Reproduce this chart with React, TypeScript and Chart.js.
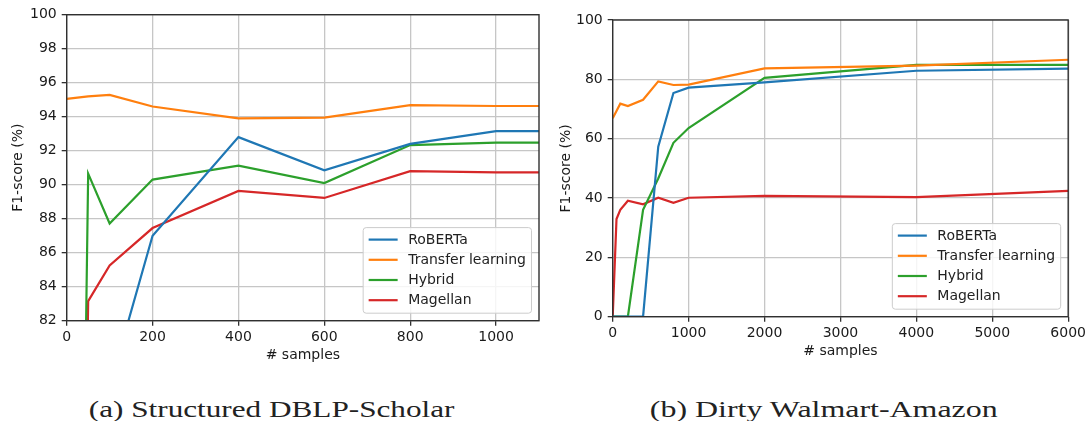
import React, { useEffect, useRef } from "react";
import { Chart, registerables } from "chart.js";

Chart.register(...registerables);

const seriesNames = ["RoBERTa", "Transfer learning", "Hybrid", "Magellan"];
const seriesColors = ["#1f77b4", "#ff7f0e", "#2ca02c", "#d62728"];

// (a) Structured DBLP-Scholar
const dblpSamples = [0, 50, 100, 200, 400, 600, 800, 1000, 1100];
const dblpRoberta = [0, 0, 78.1, 87.0, 92.8, 90.85, 92.4, 93.15, 93.15];
const dblpTransfer = [95.05, 95.2, 95.28, 94.6, 93.9, 93.95, 94.68, 94.63, 94.63];
const dblpHybrid = [0, 90.65, 87.72, 90.3, 91.12, 90.1, 92.33, 92.47, 92.48];
const dblpMagellan = [0, 83.15, 85.25, 87.45, 89.63, 89.22, 90.8, 90.72, 90.72];

// (b) Dirty Walmart-Amazon
const walmartSamples = [0, 50, 100, 200, 400, 600, 800, 1000, 2000, 4000, 6000];
const walmartRoberta = [0, 0, 0, 0, 0, 57.3, 75.4, 77.2, 79.0, 82.9, 83.6];
const walmartTransfer = [66.9, 69.3, 71.8, 71.0, 73.1, 79.3, 78.1, 78.2, 83.7, 84.6, 86.6];
const walmartHybrid = [0, 0, 0, 0, 36.0, 46.6, 58.6, 63.6, 80.5, 84.9, 84.9];
const walmartMagellan = [0, 32.9, 36.0, 39.1, 37.9, 40.1, 38.4, 40.1, 40.7, 40.3, 42.4];

const dblpXTicks = [0, 200, 400, 600, 800, 1000];
const dblpYTicks = [82, 84, 86, 88, 90, 92, 94, 96, 98, 100];
const walmartXTicks = [0, 1000, 2000, 3000, 4000, 5000, 6000];
const walmartYTicks = [0, 20, 40, 60, 80, 100];

const FONT = '"DejaVu Sans", sans-serif';

const frameLegendPlugin = {
  id: "frameLegend",
  afterDraw(chart: any) {
    const { ctx, chartArea: a } = chart;
    ctx.save();
    ctx.strokeStyle = "#303030";
    ctx.lineWidth = 1.4;
    ctx.strokeRect(a.left, a.top, a.right - a.left, a.bottom - a.top);

    ctx.font = `14px ${FONT}`;
    const ds = chart.data.datasets;
    const textW = Math.max(...ds.map((d: any) => ctx.measureText(d.label).width));
    const rowH = 20.2;
    const padX = 5.5;
    const lineLen = 29;
    const gap = 10.5;
    const w = padX + lineLen + gap + textW + padX;
    const h = 12 + rowH * (ds.length - 1) + 13;
    const x = a.right - 7.5 - w;
    const y = a.bottom - 7.5 - h;
    ctx.beginPath();
    const r = 3;
    ctx.moveTo(x + r, y);
    ctx.lineTo(x + w - r, y);
    ctx.arcTo(x + w, y, x + w, y + r, r);
    ctx.lineTo(x + w, y + h - r);
    ctx.arcTo(x + w, y + h, x + w - r, y + h, r);
    ctx.lineTo(x + r, y + h);
    ctx.arcTo(x, y + h, x, y + h - r, r);
    ctx.lineTo(x, y + r);
    ctx.arcTo(x, y, x + r, y, r);
    ctx.closePath();
    ctx.fillStyle = "rgba(255,255,255,0.82)";
    ctx.fill();
    ctx.strokeStyle = "#cccccc";
    ctx.lineWidth = 1;
    ctx.stroke();

    ds.forEach((d: any, i: number) => {
      const cy = y + 12 + i * rowH;
      ctx.beginPath();
      ctx.strokeStyle = d.borderColor;
      ctx.lineWidth = 2.2;
      ctx.moveTo(x + padX, cy);
      ctx.lineTo(x + padX + lineLen, cy);
      ctx.stroke();
      ctx.fillStyle = "#222";
      ctx.textBaseline = "middle";
      ctx.textAlign = "left";
      ctx.fillText(d.label, x + padX + lineLen + gap, cy + 0.5);
    });
    ctx.restore();
  },
};

type PanelProps = {
  left: number;
  width: number;
  height: number;
  samples: number[];
  series: number[][];
  xMax: number;
  yMin: number;
  yMax: number;
  xTicks: number[];
  yTicks: number[];
  padTop: number;
  padRight: number;
  yAxisWidth: number;
  plotBottom: number;
  xTitlePad: number;
  yTitlePad: number;
};

function Panel(p: PanelProps) {
  const ref = useRef<HTMLCanvasElement | null>(null);
  useEffect(() => {
    if (!ref.current) return;
    const datasets = p.series.map((vals, i) => ({
      label: seriesNames[i],
      data: p.samples.map((s, j) => ({ x: s, y: vals[j] })),
      borderColor: seriesColors[i],
      backgroundColor: seriesColors[i],
      borderWidth: 2.2,
      pointRadius: 0,
      tension: 0,
      fill: false,
    }));
    const grid = {
      color: "#c6c6c6",
      lineWidth: 1.3,
      tickColor: "#303030",
      tickLength: 5,
      tickWidth: 1.3,
    };
    const chart = new Chart(ref.current, {
      type: "line",
      data: { datasets },
      plugins: [frameLegendPlugin],
      options: {
        animation: false,
        responsive: false,
        devicePixelRatio: 1,
        layout: { padding: { top: p.padTop, right: p.padRight, left: 0, bottom: 0 } },
        plugins: { legend: { display: false }, tooltip: { enabled: false } },
        scales: {
          x: {
            type: "linear",
            min: 0,
            max: p.xMax,
            border: { display: false },
            grid,
            afterBuildTicks: (scale: any) => {
              scale.ticks = p.xTicks.map((v) => ({ value: v }));
            },
            afterFit: (scale: any) => {
              scale.height = p.height - p.plotBottom;
            },
            ticks: {
              autoSkip: false,
              maxRotation: 0,
              padding: 3,
              color: "#1a1a1a",
              font: { family: FONT, size: 14 },
              callback: (v: any) => String(v),
            },
            title: {
              display: true,
              text: "# samples",
              color: "#1a1a1a",
              font: { family: FONT, size: 14 },
              padding: { top: 0, bottom: p.xTitlePad },
            },
          },
          y: {
            type: "linear",
            min: p.yMin,
            max: p.yMax,
            border: { display: false },
            grid,
            afterBuildTicks: (scale: any) => {
              scale.ticks = p.yTicks.map((v) => ({ value: v }));
            },
            afterFit: (scale: any) => {
              scale.width = p.yAxisWidth;
            },
            ticks: {
              autoSkip: false,
              padding: 5,
              color: "#1a1a1a",
              font: { family: FONT, size: 14 },
              callback: (v: any) => String(v),
            },
            title: {
              display: true,
              text: "F1-score (%)",
              color: "#1a1a1a",
              font: { family: FONT, size: 14 },
              padding: { top: p.yTitlePad, bottom: 0 },
            },
          },
        },
      } as any,
    });
    return () => chart.destroy();
  }, []);
  return (
    <canvas
      ref={ref}
      width={p.width}
      height={p.height}
      style={{ position: "absolute", left: p.left, top: 0, width: p.width, height: p.height }}
    />
  );
}

function Caption({ center, text, stretch }: { center: number; text: string; stretch: number }) {
  return (
    <div
      style={{
        position: "absolute",
        left: center - 300,
        width: 600,
        top: 397,
        textAlign: "center",
        fontFamily: '"Liberation Serif", serif',
        fontSize: 24,
        lineHeight: "24px",
        color: "#222",
        whiteSpace: "nowrap",
      }}
    >
      <span style={{ display: "inline-block", transform: `scaleX(${stretch})`, transformOrigin: "center" }}>
        {text}
      </span>
    </div>
  );
}

export default function App() {
  return (
    <div
      style={{
        position: "absolute",
        left: 0,
        top: 0,
        width: 1089,
        height: 421,
        background: "#fff",
        overflow: "hidden",
      }}
    >
      <Panel
        left={0}
        width={560}
        height={370}
        samples={dblpSamples}
        series={[dblpRoberta, dblpTransfer, dblpHybrid, dblpMagellan]}
        xMax={1100}
        yMin={82}
        yMax={100}
        xTicks={dblpXTicks}
        yTicks={dblpYTicks}
        padTop={14.7}
        padRight={21}
        yAxisWidth={66.7}
        plotBottom={320.7}
        xTitlePad={6.6}
        yTitlePad={10}
      />
      <Panel
        left={545}
        width={544}
        height={370}
        samples={walmartSamples}
        series={[walmartRoberta, walmartTransfer, walmartHybrid, walmartMagellan]}
        xMax={6000}
        yMin={0}
        yMax={100}
        xTicks={walmartXTicks}
        yTicks={walmartYTicks}
        padTop={20}
        padRight={19.3}
        yAxisWidth={67.7}
        plotBottom={316.7}
        xTitlePad={10.6}
        yTitlePad={12.5}
      />
      <Caption center={272} text="(a) Structured DBLP-Scholar" stretch={1.3} />
      <Caption center={824} text="(b) Dirty Walmart-Amazon" stretch={1.33} />
    </div>
  );
}
